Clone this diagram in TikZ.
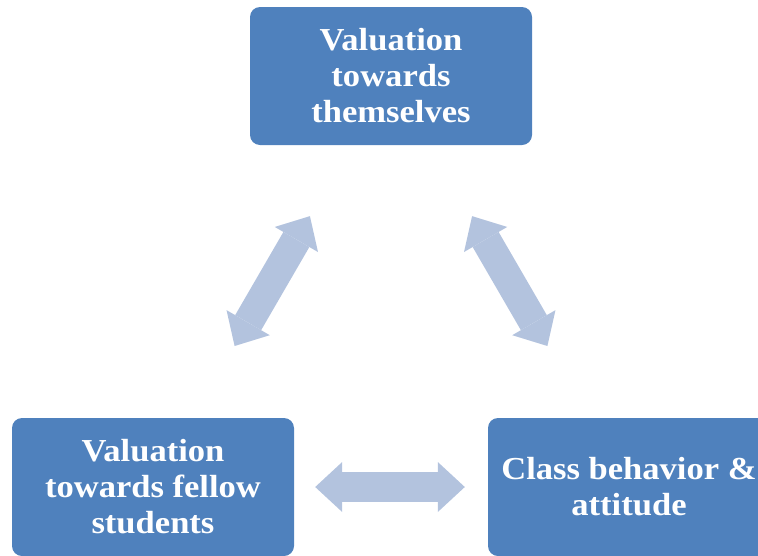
\documentclass[tikz,border=0pt]{standalone}
\usepackage{fontspec}
\setmainfont[FakeStretch=1.08]{Liberation Serif}
\usetikzlibrary{arrows.meta}
\definecolor{boxblue}{RGB}{79,129,189}
\definecolor{arrowblue}{RGB}{179,195,222}

\begin{document}
\begin{tikzpicture}[x=1pt,y=-1pt,
  factor/.style={fill=boxblue, rounded corners=10pt, minimum width=282pt,
    minimum height=138pt, text width=276pt, align=flush center, text=white,
    inner sep=0pt, font=\bfseries\fontsize{32}{36}\selectfont},
  link/.style={arrowblue, line width=30pt,
    {Triangle[length=27pt,width=50pt,line width=0pt]}-{Triangle[length=27pt,width=50pt,line width=0pt]}}]
\useasboundingbox (0,0) rectangle (758,555);
\node [factor] (self) at (391,76) {Valuation\\towards\\themselves};
\node [factor] (fellow) at (153,487) {Valuation\\towards fellow\\students};
\node [factor] (behav) at (629,487) {Class behavior \&\\attitude};
\draw [link, shorten <=82pt, shorten >=83pt] (self) -- (fellow);
\draw [link, shorten <=82pt, shorten >=83pt] (self) -- (behav);
\draw [link, shorten <=21pt, shorten >=23pt] (fellow) -- (behav);
\end{tikzpicture}
\end{document}
